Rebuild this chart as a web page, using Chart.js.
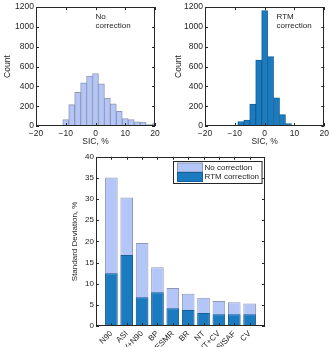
<!DOCTYPE html>
<html>
<head>
<meta charset="utf-8">
<script src="https://cdn.jsdelivr.net/npm/chart.js@4.4.1/dist/chart.umd.min.js"></script>
<style>
html, body { margin: 0; padding: 0; background: #fff; overflow: hidden; width: 332px; height: 347px; }
canvas { position: absolute; }
#histNo { left: 0; top: 0; }
#histRtm { left: 166px; top: 0; }
#stdBars { left: 50px; top: 150px; }
</style>
</head>
<body>
<canvas id="histNo" width="166" height="150"></canvas>
<canvas id="histRtm" width="166" height="150"></canvas>
<canvas id="stdBars" width="230" height="220"></canvas>
<script>
// histogram bins (SIC error, %), centres
const binCenters = [-10, -8, -6, -4, -2, 0, 2, 4, 6, 8, 10, 12, 14, 16, 18, 20];
const countsNoCorr = [65, 215, 340, 435, 505, 530, 425, 282, 225, 147, 75, 65, 42, 40, 15, 25];
const countsRtm = [5, 45, 60, 220, 665, 1165, 700, 285, 115, 25, 8, 3, 2, 1, 0, 0];

// std deviation per algorithm
const algorithms = ['N90', 'ASI', 'CV+N90', 'BP', 'ESMR', 'BR', 'NT', 'NT+CV', 'OSISAF', 'CV'];
const stdNoCorr = [35.1, 30.4, 19.6, 13.9, 9.0, 7.6, 6.7, 5.9, 5.6, 5.3];
const stdRtm = [12.5, 16.8, 6.8, 8.0, 4.2, 3.8, 3.1, 2.75, 2.75, 2.75];

const LIGHT = '#b4c6f7', LIGHT_EDGE = '#8e98b4';
const DARK = '#1b7bc0', DARK_EDGE = '#175f96';
const TXT = '#262626';
const FAMILY = '"Liberation Sans", Arial, sans-serif';

Chart.defaults.font.family = FAMILY;
Chart.defaults.font.size = 8.5;
Chart.defaults.color = TXT;
Chart.defaults.animation = false;

const minus = v => String(v).replace('-', '\u2212');

// matlab-like box with inward ticks
const boxAxes = {
    id: 'boxAxes',
    afterDatasetsDraw(chart) {
        const { ctx, chartArea: a, scales } = chart;
        ctx.save();
        ctx.strokeStyle = TXT;
        ctx.lineWidth = 1;
        ctx.strokeRect(Math.round(a.left) + 0.5, Math.round(a.top) + 0.5, Math.round(a.width) - 1, Math.round(a.height) - 1);
        ctx.beginPath();
        scales.x.ticks.forEach((t, i) => {
            const px = Math.round(scales.x.getPixelForTick(i)) + 0.5;
            ctx.moveTo(px, a.bottom); ctx.lineTo(px, a.bottom - 3);
            ctx.moveTo(px, a.top); ctx.lineTo(px, a.top + 3);
        });
        scales.y.ticks.forEach((t, i) => {
            const py = Math.round(scales.y.getPixelForTick(i)) + 0.5;
            ctx.moveTo(a.left, py); ctx.lineTo(a.left + 3, py);
            ctx.moveTo(a.right, py); ctx.lineTo(a.right - 3, py);
        });
        ctx.stroke();
        ctx.restore();
    }
};

// text(x, y, ...) note in data coords
const note = {
    id: 'note',
    afterDatasetsDraw(chart, args, opts) {
        if (!opts.lines) return;
        const { ctx, scales } = chart;
        const x = scales.x.getPixelForValue(opts.x);
        let y = scales.y.getPixelForValue(opts.y);
        ctx.save();
        ctx.font = '8px ' + FAMILY;
        ctx.fillStyle = TXT;
        ctx.textBaseline = 'middle';
        opts.lines.forEach(l => { ctx.fillText(l, x, y); y += 9; });
        ctx.restore();
    }
};

// legend box inside the axes, top right
const insideLegend = {
    id: 'insideLegend',
    afterDatasetsDraw(chart, args, opts) {
        if (!opts.show) return;
        const { ctx, chartArea: a } = chart;
        const sets = chart.data.datasets;
        ctx.save();
        ctx.font = '8px ' + FAMILY;
        const tw = Math.max(...sets.map(d => ctx.measureText(d.label).width));
        const rowH = 9.5, sw = 25;
        const w = 4 + sw + 2 + tw + 3, h = sets.length * rowH + 3;
        const x0 = Math.round(a.right - 3 - w) + 0.5, y0 = Math.round(a.top + 4) + 0.5;
        ctx.fillStyle = '#fff';
        ctx.fillRect(x0, y0, w, h);
        ctx.strokeStyle = TXT;
        ctx.strokeRect(x0, y0, w, h);
        sets.forEach((d, i) => {
            const ry = y0 + 1.5 + i * rowH;
            ctx.fillStyle = d.backgroundColor;
            ctx.fillRect(x0 + 4, ry, sw, rowH - 0.5);
            ctx.strokeStyle = d.borderColor;
            ctx.strokeRect(x0 + 4, ry, sw, rowH - 0.5);
            ctx.fillStyle = TXT;
            ctx.textBaseline = 'middle';
            ctx.fillText(d.label, x0 + 4 + sw + 2, ry + rowH / 2);
        });
        ctx.restore();
    }
};

function histogram(id, counts, fill, edge, yAxisW, rightPad, titlePad, noteX, noteLines) {
    return new Chart(document.getElementById(id), {
        type: 'bar',
        data: {
            datasets: [{
                data: binCenters.map((c, i) => ({ x: c, y: counts[i] })),
                backgroundColor: fill,
                borderColor: edge,
                borderWidth: 1,
                barPercentage: 1,
                categoryPercentage: 1
            }]
        },
        options: {
            responsive: false,
            layout: { padding: { top: 5, right: rightPad, left: 0, bottom: 0 } },
            plugins: {
                legend: { display: false },
                tooltip: { enabled: false },
                note: { x: noteX, y: 1100, lines: noteLines }
            },
            scales: {
                x: {
                    type: 'linear', min: -20, max: 20, offset: false,
                    grid: { display: false, drawTicks: false },
                    border: { display: false },
                    ticks: { stepSize: 10, padding: 3, maxRotation: 0, callback: v => minus(v) },
                    title: { display: true, text: 'SIC, %', padding: { top: 0, bottom: 3 } },
                    afterFit: s => { s.height = 24; }
                },
                y: {
                    min: 0, max: 1200,
                    grid: { display: false, drawTicks: false },
                    border: { display: false },
                    ticks: { stepSize: 200, padding: 2, callback: v => String(v) },
                    title: { display: true, text: 'Count', padding: { top: titlePad, bottom: 0 } },
                    afterFit: s => { s.width = yAxisW; }
                }
            }
        },
        plugins: [boxAxes, note]
    });
}

histogram('histNo', countsNoCorr, LIGHT, LIGHT_EDGE, 36, 11, 3, 0, ['No', 'correction']);
histogram('histRtm', countsRtm, DARK, DARK_EDGE, 39, 7, 8, 4, ['RTM', 'correction']);

new Chart(document.getElementById('stdBars'), {
    type: 'bar',
    data: {
        datasets: [
            { label: 'No correction', data: algorithms.map((a, i) => ({ x: i + 1, y: stdNoCorr[i] })), backgroundColor: LIGHT, borderColor: LIGHT_EDGE, borderWidth: 1, order: 1 },
            { label: 'RTM correction', data: algorithms.map((a, i) => ({ x: i + 1, y: stdRtm[i] })), backgroundColor: DARK, borderColor: DARK_EDGE, borderWidth: 1, order: 0 }
        ]
    },
    options: {
        responsive: false,
        datasets: { bar: { grouped: false, barPercentage: 0.82, categoryPercentage: 1 } },
        layout: { padding: { top: 6, right: 15, left: 0, bottom: 0 } },
        plugins: {
            legend: { display: false },
            tooltip: { enabled: false },
            insideLegend: { show: true }
        },
        scales: {
            x: {
                type: 'linear', min: 0, max: 11, offset: false,
                grid: { display: false, drawTicks: false },
                border: { display: false },
                afterBuildTicks: s => { s.ticks = algorithms.map((a, i) => ({ value: i + 1 })); },
                ticks: {
                    font: { size: 8 }, padding: 3, minRotation: 45, maxRotation: 45, autoSkip: false,
                    callback: v => algorithms[v - 1]
                },
                afterFit: s => { s.height = 44; }
            },
            y: {
                min: 0, max: 40,
                grid: { display: false, drawTicks: false },
                border: { display: false },
                ticks: { stepSize: 5, padding: 2, font: { size: 8 } },
                title: { display: true, text: 'Standard Deviation, %', font: { size: 8 }, padding: { top: 20, bottom: 0 } },
                afterFit: s => { s.width = 46; }
            }
        }
    },
    plugins: [boxAxes, insideLegend]
});
</script>
</body>
</html>
